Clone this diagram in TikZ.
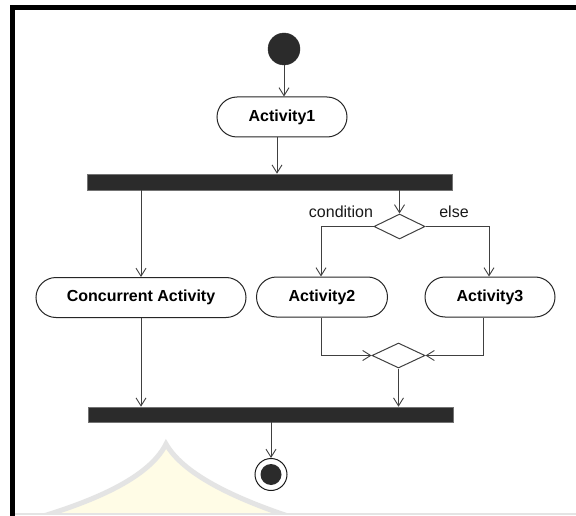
\documentclass[tikz,border=0pt]{standalone}
\usepackage{fontspec}
\setmainfont{Liberation Sans}
\usetikzlibrary{shapes.misc,shapes.geometric,arrows.meta}
\definecolor{barfill}{HTML}{2B2B2B}
\definecolor{linec}{HTML}{404040}
\definecolor{wmgrey}{HTML}{E4E4E4}
\definecolor{wmfill}{HTML}{FFFCE6}
\begin{document}
\begin{tikzpicture}[x=1pt,y=-1pt,
  >={Straight Barb[length=8pt,width=10pt,line width=0.9pt]},
  conn/.style={draw=linec,line width=0.9pt,->},
  act/.style={rounded rectangle,draw=black!85,line width=1pt,fill=white,
    minimum height=40pt,inner sep=0pt,font=\bfseries\fontsize{16}{19}\selectfont},
  bar/.style={rectangle,fill=barfill,draw=black!55,line width=0.6pt,inner sep=0pt},
  dec/.style={diamond,draw=linec,line width=1pt,fill=white,inner sep=0pt,
    minimum width=51pt,minimum height=25pt},
  lbl/.style={font=\fontsize{16}{19}\selectfont,inner sep=0pt,text=black!90},
  startnode/.style={circle,fill=barfill,draw=barfill,inner sep=0pt,minimum size=32pt},
  endring/.style={circle,draw=black!90,line width=1pt,fill=white,inner sep=0pt,minimum size=32pt},
  enddot/.style={circle,fill=barfill,inner sep=0pt,minimum size=21pt}]
\useasboundingbox (0,0) rectangle (576,516);
\fill[white] (0,0) rectangle (576,516);
% faint watermark
\begin{scope}
\clip (14,10) rectangle (576,513);
\path[fill=wmfill,draw=wmgrey,line width=5pt]
  (30,520) .. controls (110,497) and (152,472) .. (166,444)
  .. controls (182,472) and (228,497) .. (300,520) -- cycle;
\end{scope}
\draw[wmgrey,line width=1.5pt] (14,514) -- (576,514);
% frame
\fill[black] (10,5) rectangle (576,10);
\fill[black] (10,5) rectangle (14.5,516);
% nodes
\node[startnode] (start) at (284,49) {};
\node[act,minimum width=130pt] (a1) at (282,117) {Activity1};
\node[bar,minimum width=365pt,minimum height=16pt] (bar1) at (269.5,182) {};
\node[dec] (d1) at (399.5,226.5) {};
\node[lbl] (cond) at (341,212) {condition};
\node[lbl] (els) at (454,212) {else};
\node[act,minimum width=210pt] (ca) at (141,297.5) {Concurrent Activity};
\node[act,minimum width=131pt] (a2) at (322,297) {Activity2};
\node[act,minimum width=130pt] (a3) at (490,297) {Activity3};
\node[dec,minimum width=53pt] (d2) at (398.5,355.5) {};
\node[bar,minimum width=365pt,minimum height=15pt] (bar2) at (270.5,414.5) {};
\node[endring] (endn) at (271,474.5) {};
\node[enddot] (enddot) at (271,474.5) {};
% connectors
\draw[conn] (start.south) -- (start.south |- a1.north);
\draw[conn] ([xshift=-5pt]a1.south) -- ([xshift=-5pt]a1.south |- bar1.north);
\draw[conn] (bar1.south -| ca.north) -- (ca.north);
\draw[conn] (bar1.south -| d1.north) -- (d1.north);
\draw[conn] (d1.west) -| ([xshift=-1pt]a2.north);
\draw[conn] (d1.east) -| ([xshift=-1pt]a3.north);
\draw[conn] ([xshift=-1pt]a2.south) |- (d2.west);
\draw[conn] ([xshift=-7pt]a3.south) |- (d2.east);
\draw[conn] (d2.south) -- (d2.south |- bar2.north);
\draw[conn] (ca.south) -- (ca.south |- bar2.north);
\draw[conn] (bar2.south -| endn.north) -- (endn.north);
\end{tikzpicture}
\end{document}
